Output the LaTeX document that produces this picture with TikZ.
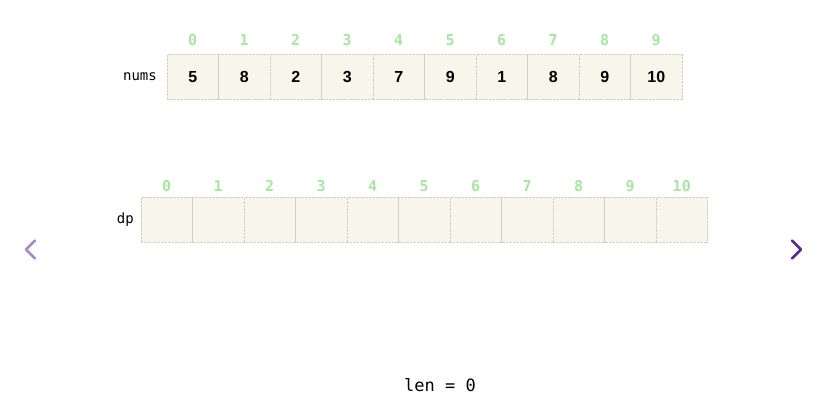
\documentclass[tikz,border=0pt]{standalone}
\usepackage{fontspec}
\setmainfont{Liberation Sans}
\setmonofont{DejaVu Sans Mono}
\definecolor{cellfill}{HTML}{F8F6EA}
\definecolor{cellline}{HTML}{CFCFC6}
\definecolor{idxgreen}{HTML}{A8E6A0}
\definecolor{lightpurple}{HTML}{A38CC8}
\definecolor{darkpurple}{HTML}{5A2C8C}
\tikzset{
  cellbox/.style={draw=cellline, densely dotted, fill=cellfill, minimum width=51.5pt, minimum height=45pt, inner sep=0pt, font=\bfseries\fontsize{16}{16}\selectfont},
  idxlabel/.style={text=idxgreen, font=\ttfamily\bfseries\fontsize{15}{15}\selectfont, inner sep=0pt},
  namelabel/.style={font=\ttfamily\fontsize{14}{14}\selectfont, inner sep=0pt},
  chev/.style={line width=2.8pt, line cap=round, line join=round}
}
\begin{document}
\begin{tikzpicture}[x=1pt,y=-1pt]
\useasboundingbox (0,0) rectangle (839,406);
% nums array
\foreach \v [count=\i from 0] in {5,8,2,3,7,9,1,8,9,10} {
  \node[cellbox] (n\i) at ({167+51.5*\i+25.75},77) {\v};
  \node[idxlabel] (ni\i) at ({167+51.5*\i+25.75},40) {\i};
}
\node[namelabel, anchor=east] (numslabel) at (157,77) {nums};
% dp array
\foreach \i in {0,...,10} {
  \node[cellbox] (d\i) at ({141+51.5*\i+25.75},220) {};
  \node[idxlabel] (di\i) at ({141+51.5*\i+25.75},186) {\i};
}
\node[namelabel, anchor=east] (dplabel) at (134,220) {dp};
% navigation chevrons
\coordinate (la) at (35,240.5);
\coordinate (lb) at (26,249.5);
\coordinate (lc) at (35,258.5);
\draw[chev, lightpurple] (la) -- (lb) -- (lc);
\coordinate (ra) at (792,240.5);
\coordinate (rb) at (801,249.5);
\coordinate (rc) at (792,258.5);
\draw[chev, darkpurple] (ra) -- (rb) -- (rc);
% len label
\node[font=\ttfamily\fontsize{17}{17}\selectfont, inner sep=0pt] (len) at (440,385) {len = 0};
\end{tikzpicture}
\end{document}
